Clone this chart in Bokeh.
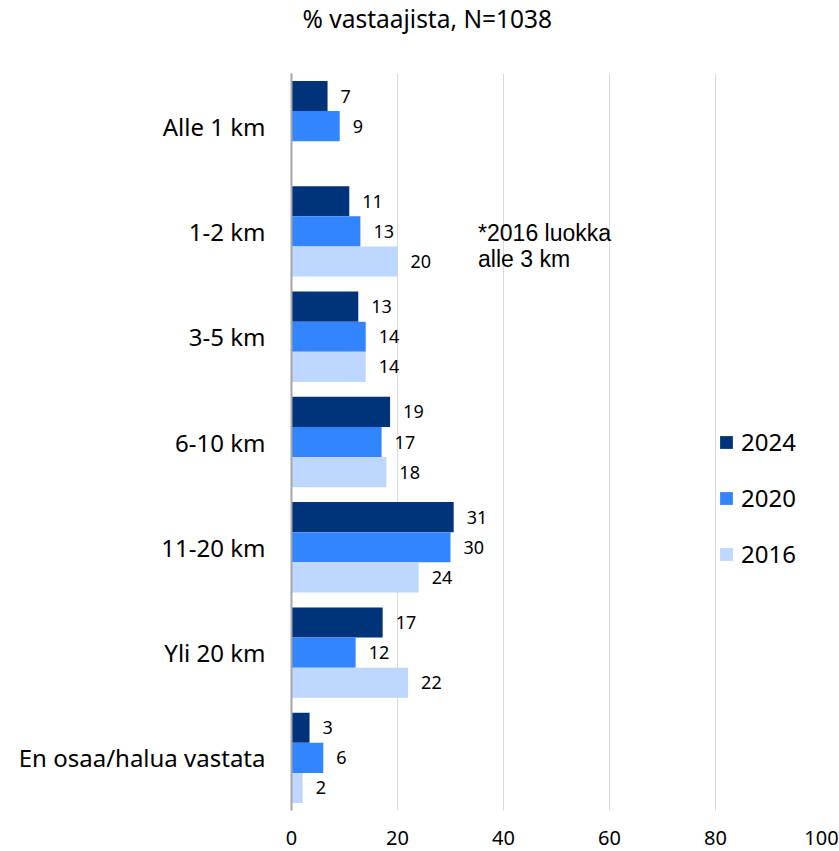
from bokeh.plotting import figure
from bokeh.models import (FactorRange, Range1d, ColumnDataSource, Legend, LegendItem,
                          Label, FixedTicker, Title)
from bokeh.transform import dodge
from bokeh.core.properties import value
from bokeh.embed import file_html
from bokeh.resources import INLINE

# ---- data ----
categories = ["Alle 1 km", "1-2 km", "3-5 km", "6-10 km", "11-20 km", "Yli 20 km",
              "En osaa/halua vastata"]
years = ["2024", "2020", "2016"]
v2024 = [6.8, 10.9, 12.6, 18.6, 30.6, 17.2, 3.4]
v2020 = [9.1, 13.0, 14.0, 17.0, 30.0, 12.1, 6.0]
v2016 = [None, 20.0, 14.0, 17.9, 24.0, 22.0, 2.1]
lab2024 = [7, 11, 13, 19, 31, 17, 3]
lab2020 = [9, 13, 14, 17, 30, 12, 6]
lab2016 = [None, 20, 14, 18, 24, 22, 2]
x_ticks = [0, 20, 40, 60, 80, 100]
title_text = "% vastaajista, N=1038"
note_lines = ["*2016 luokka", "alle 3 km"]

colors = {"2024": "#00337A", "2020": "#3385FF", "2016": "#BDD7FF"}
offsets = {"2024": 0.286, "2020": 0.0, "2016": -0.286}
series = {"2024": (v2024, lab2024), "2020": (v2020, lab2020), "2016": (v2016, lab2016)}

FONT = "Noto Sans"

p = figure(width=839, height=851, output_backend="svg", toolbar_location=None,
           title=None,
           y_range=FactorRange(*list(reversed(categories))),
           x_range=Range1d(0, 100),
           min_border_left=291, min_border_right=18, min_border_top=0,
           min_border_bottom=41)
p.outline_line_color = None
p.background_fill_color = "white"
p.border_fill_color = "white"

# spacer (closest to the frame) and the main title above it
p.add_layout(Title(text=" ", text_font_size="10px", standoff=23), "above")
p.add_layout(Title(text=title_text, align="left", offset=11, vertical_align="top",
                   standoff=2, text_font=FONT, text_font_size="24.5px",
                   text_font_style="normal", text_color="#000000"), "above")

legend_items = []
for yr in years:
    vals, labs = series[yr]
    cats = [c for c, v in zip(categories, vals) if v is not None]
    vv = [v for v in vals if v is not None]
    ll = [str(l) for l in labs if l is not None]
    src = ColumnDataSource(dict(cat=cats, val=vv, lab=ll))
    r = p.hbar(y=dodge("cat", offsets[yr], range=p.y_range), right="val", left=0,
               height=0.286, source=src, fill_color=colors[yr], line_color=None)
    p.text(x="val", y=dodge("cat", offsets[yr], range=p.y_range), text="lab", source=src,
           x_offset=13, text_align="left", text_baseline="middle",
           text_font=value(FONT), text_font_size="18px", text_color="#000000")
    legend_items.append(LegendItem(label=yr, renderers=[r]))

legend = Legend(items=legend_items, location=(427, 240), orientation="vertical",
                glyph_width=16, glyph_height=16, label_height=24, spacing=23,
                label_standoff=7, padding=0, margin=0,
                border_line_color=None, background_fill_alpha=0,
                label_text_font=FONT, label_text_font_size="24px",
                label_text_color="#000000")
p.add_layout(legend, "center")

# note annotation
p.add_layout(Label(x=35.2, y=5.366, text=note_lines[0], text_font="Liberation Sans",
                   text_font_size="23px", text_baseline="bottom", text_color="#000000"))
p.add_layout(Label(x=35.2, y=5.366, text=note_lines[1], text_font="Liberation Sans",
                   text_font_size="23px", text_baseline="top", text_color="#000000"))

# axes
p.xaxis.ticker = FixedTicker(ticks=x_ticks)
p.xaxis.axis_line_color = None
p.xaxis.major_tick_line_color = None
p.xaxis.minor_tick_line_color = None
p.xaxis.major_label_text_font = FONT
p.xaxis.major_label_text_font_size = "20px"
p.xaxis.major_label_text_color = "#000000"
p.xaxis.major_label_standoff = 14

p.yaxis.axis_line_color = "#A6A6A6"
p.yaxis.axis_line_width = 2
p.yaxis.major_tick_line_color = None
p.yaxis.minor_tick_line_color = None
p.yaxis.major_label_text_font = FONT
p.yaxis.major_label_text_font_size = "24px"
p.yaxis.major_label_text_color = "#000000"
p.yaxis.major_label_standoff = 20

p.xgrid.ticker = FixedTicker(ticks=x_ticks)
p.xgrid.grid_line_color = "#D9D9D9"
p.xgrid.grid_line_width = 1
p.ygrid.grid_line_color = None

open("out.html", "w").write(file_html(p, INLINE))
